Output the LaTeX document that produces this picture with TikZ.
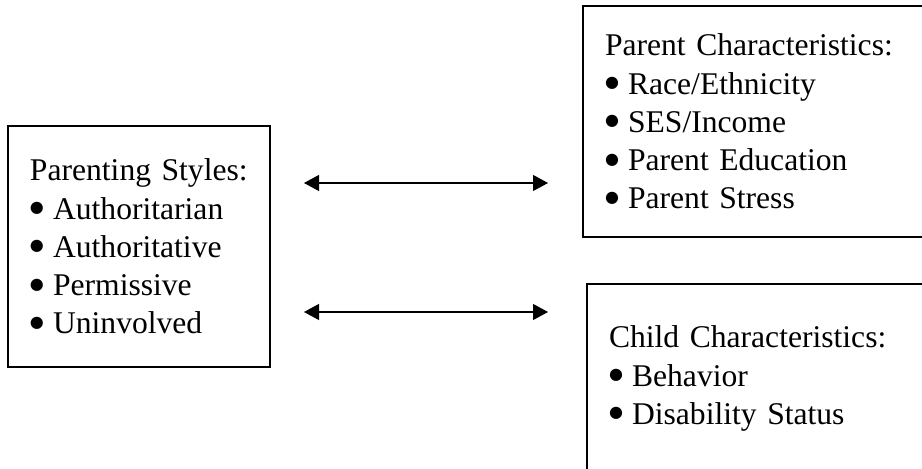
\documentclass[tikz,border=0pt]{standalone}
\usepackage{fontspec}
\setmainfont{Liberation Serif}
\newfontfamily\dejavu{DejaVu Sans}
\usetikzlibrary{arrows.meta}

\newcommand{\bul}{\makebox[0.73em][l]{\raisebox{6.5pt}{\dejavu\fontsize{16}{16}\selectfont ●}}}

\begin{document}
\begin{tikzpicture}[x=1pt, y=1pt,
    box/.style={draw, line width=2pt, inner xsep=22pt, inner ysep=0pt, align=left,
        font=\fontsize{31.6}{38.2}\selectfont},
    link/.style={{Triangle[length=15pt,width=16pt]}-{Triangle[length=15pt,width=16pt]}, line width=1.2pt}]
\useasboundingbox (0,0) rectangle (922,469);

% left box
\node[box, minimum width=262pt, minimum height=241pt, text width=218pt] (styles) at (139,222.5)
  {Parenting Styles:\\ \bul Authoritarian\\ \bul Authoritative\\ \bul Permissive\\ \bul Uninvolved};

% right boxes (cut at the page edge)
\node[box, minimum width=347pt, minimum height=231pt, text width=303pt] (parent) at (756.5,347.5)
  {Parent Characteristics:\\ \bul Race/Ethnicity\\ \bul SES/Income\\ \bul Parent Education\\ \bul Parent Stress};
\node[box, minimum width=343pt, minimum height=189pt, text width=299pt] (child) at (758.5,90.5)
  {Child Characteristics:\\ \bul Behavior\\ \bul Disability Status};

% arrows
\coordinate (ytop) at (0,286);
\coordinate (ybot) at (0,157);
\draw[link, shorten <=33pt, shorten >=34pt] (styles.east |- ytop) -- (parent.west |- ytop);
\draw[link, shorten <=33pt, shorten >=38pt] (styles.east |- ybot) -- (child.west |- ybot);
\end{tikzpicture}
\end{document}
